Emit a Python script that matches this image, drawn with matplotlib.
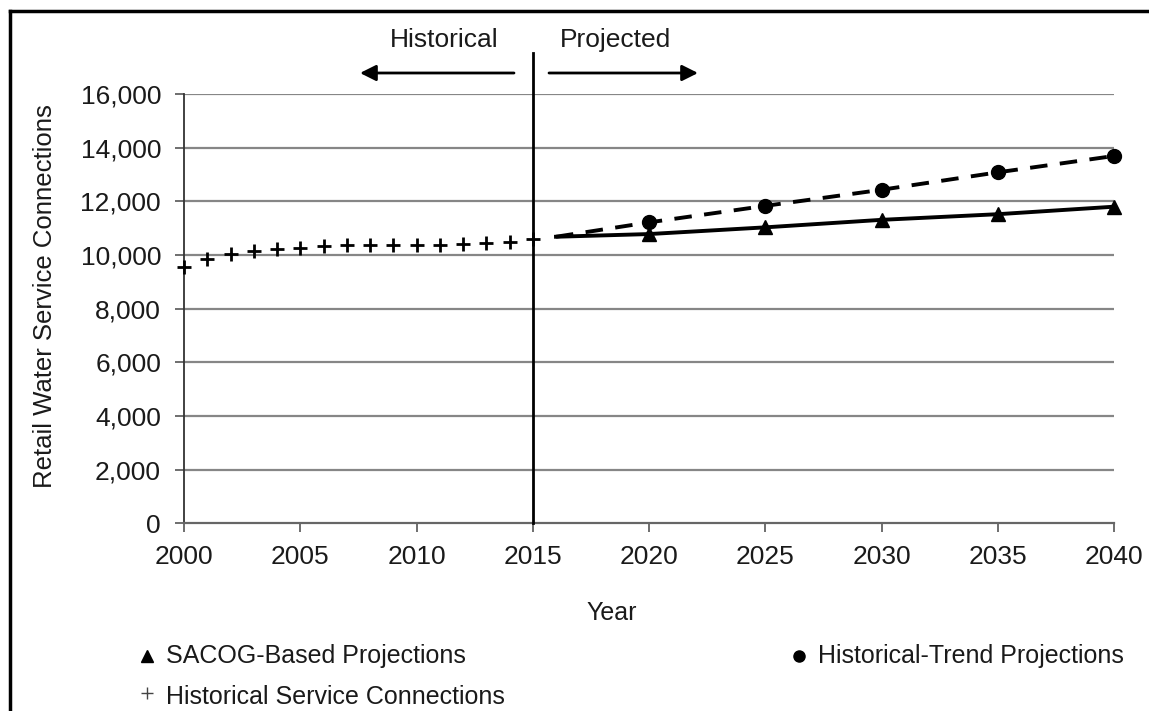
import matplotlib
matplotlib.use("Agg")
import matplotlib.pyplot as plt
from matplotlib.lines import Line2D

plt.rcParams['font.family'] = ['Liberation Sans', 'DejaVu Sans']

# ---- data ----
hist_years = list(range(2000, 2016))
hist_values = [9550, 9850, 10040, 10160, 10220, 10260, 10340, 10360,
               10360, 10360, 10360, 10380, 10400, 10430, 10500, 10590]

proj_years = [2016, 2020, 2025, 2030, 2035, 2040]
sacog_values = [10680, 10780, 11030, 11310, 11520, 11800]
trend_values = [10680, 11215, 11830, 12430, 13080, 13690]

x_ticks = [2000, 2005, 2010, 2015, 2020, 2025, 2030, 2035, 2040]
y_ticks = [0, 2000, 4000, 6000, 8000, 10000, 12000, 14000, 16000]
y_ticklabels = ["0", "2,000", "4,000", "6,000", "8,000", "10,000", "12,000", "14,000", "16,000"]

W, H = 1149, 711
fig = plt.figure(figsize=(W / 100, H / 100), dpi=100)

def fx(px):
    return px / W

def fy(py):
    return 1 - py / H

ax_l, ax_r, ax_t, ax_b = 184, 1114, 94, 523.3
ax = fig.add_axes([fx(ax_l), fy(ax_b), fx(ax_r) - fx(ax_l), fy(ax_t) - fy(ax_b)])

TXT = '#1a1a1a'
FS_TICK = 19
FS_LEG = 18

ax.set_xlim(2000, 2040)
ax.set_ylim(0, 16000)
ax.set_xticks(x_ticks)
ax.set_xticklabels([str(v) for v in x_ticks])
ax.set_yticks(y_ticks)
ax.set_yticklabels(y_ticklabels)
ax.tick_params(axis='both', labelsize=FS_TICK, labelcolor=TXT, color='#555555',
               length=6.5, width=1.2, direction='out')
ax.tick_params(axis='y', pad=10)
ax.tick_params(axis='x', pad=9)

for y in y_ticks[1:]:
    ax.axhline(y, color='#868686', lw=1.6, zorder=1)

for s in ['top', 'right']:
    ax.spines[s].set_visible(False)
ax.spines['left'].set_color('#333333')
ax.spines['left'].set_linewidth(1.3)
ax.spines['bottom'].set_color('#666666')
ax.spines['bottom'].set_linewidth(1.6)

# historical
ax.plot(hist_years, hist_values, linestyle='none', marker='+', color='black',
        markersize=10, markeredgewidth=2, zorder=4, clip_on=False)

# projections
ax.plot(proj_years, sacog_values, linestyle='-', color='black', lw=2.8,
        marker='^', markersize=10, markevery=list(range(1, len(proj_years))),
        zorder=4, clip_on=False)
ax.plot(proj_years, trend_values, linestyle=(0, (4.5, 3.2)), color='black', lw=2.8,
        marker='o', markersize=10, markevery=list(range(1, len(proj_years))),
        zorder=4, clip_on=False)

# vertical divider at 2015
top_frac = (ax_b - 53) / (ax_b - ax_t)
ax.axvline(2015, ymin=0, ymax=top_frac, color='black', lw=2, clip_on=False, zorder=5)

# arrows (figure coordinates)
ay = fy(73)
fig.add_artist(matplotlib.patches.FancyArrowPatch((fx(514), ay), (fx(360), ay),
               transform=fig.transFigure, arrowstyle='-|>', mutation_scale=24,
               lw=2, color='black', shrinkA=0, shrinkB=0))
fig.add_artist(matplotlib.patches.FancyArrowPatch((fx(549), ay), (fx(698), ay),
               transform=fig.transFigure, arrowstyle='-|>', mutation_scale=24,
               lw=2, color='black', shrinkA=0, shrinkB=0))
fig.text(fx(444), fy(40), "Historical", fontsize=FS_TICK, color=TXT, ha='center', va='center')
fig.text(fx(616), fy(40), "Projected", fontsize=FS_TICK, color=TXT, ha='center', va='center')

# axis labels
fig.text(fx(612), fy(613), "Year", fontsize=FS_LEG, color=TXT, ha='center', va='center')
fig.text(fx(45), fy(296), "Retail Water Service Connections", fontsize=18.5, color=TXT,
         ha='center', va='center', rotation=90)

# legend (manual)
fig.add_artist(Line2D([fx(147)], [fy(656)], transform=fig.transFigure, marker='^',
                      color='black', markersize=8, linestyle='none'))
fig.text(fx(166), fy(656), "SACOG-Based Projections", fontsize=FS_LEG, color=TXT, va='center')
fig.add_artist(Line2D([fx(799)], [fy(656)], transform=fig.transFigure, marker='o',
                      color='black', markersize=8, linestyle='none'))
fig.text(fx(818), fy(656), "Historical-Trend Projections", fontsize=FS_LEG, color=TXT, va='center')
fig.add_artist(Line2D([fx(147)], [fy(693)], transform=fig.transFigure, marker='+',
                      color='#444444', markersize=9, markeredgewidth=1, linestyle='none'))
fig.text(fx(166), fy(697), "Historical Service Connections", fontsize=FS_LEG, color=TXT, va='center')

# frame (top and left edges visible)
fig.add_artist(Line2D([fx(10), fx(10)], [fy(11), -0.05], transform=fig.transFigure,
                      color='black', lw=2.5))
fig.add_artist(Line2D([fx(10), 1.05], [fy(11), fy(11)], transform=fig.transFigure,
                      color='black', lw=2.5))

fig.savefig("out.png", dpi=100)
